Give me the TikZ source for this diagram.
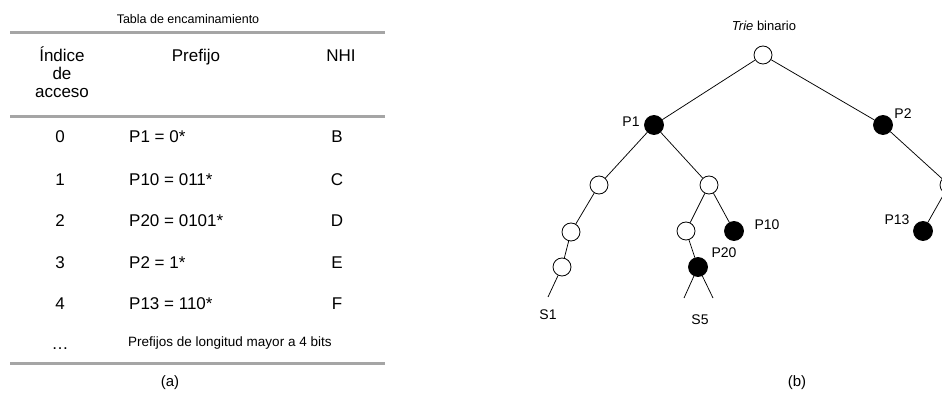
\documentclass[tikz,border=0pt]{standalone}
\usepackage{fontspec}
\setmainfont{Liberation Sans}
\definecolor{rulegray}{RGB}{165,165,165}

\begin{document}
\begin{tikzpicture}[x=1pt,y=-1pt,
  hueco/.style={circle,draw,fill=white,minimum size=18pt,inner sep=0pt,line width=0.8pt},
  lleno/.style={circle,draw,fill=black,minimum size=19pt,inner sep=0pt,line width=0.8pt},
  rama/.style={line width=0.75pt},
  regla/.style={rulegray,line width=3pt},
  celda/.style={anchor=base,inner sep=0pt,font=\fontsize{17}{20}\selectfont},
  etiq/.style={anchor=base,inner sep=0pt,font=\fontsize{14}{16}\selectfont}]
  \clip (0,0) rectangle (942,403);
  % (a) tabla
  \node[anchor=base,inner sep=0pt,font=\fontsize{12.5}{15}\selectfont] (titulo) at (188,24) {Tabla de encaminamiento};
  \draw[regla] (10,33) -- (385,33);
  \node[celda] (hidx1) at (62,62) {Índice};
  \node[celda] (hidx2) at (62,80) {de};
  \node[celda] (hidx3) at (62,98) {acceso};
  \node[celda] (hpre) at (196,62) {Prefijo};
  \node[celda] (hnhi) at (341,62) {NHI};
  \draw[regla] (10,117) -- (385,117);
  \node[celda] (idx0) at (60,143) {0};
  \node[celda,anchor=base west] (pre0) at (129,143) {P1 = 0*};
  \node[celda] (nhi0) at (337,143) {B};
  \node[celda] (idx1) at (60,186) {1};
  \node[celda,anchor=base west] (pre1) at (129,186) {P10 = 011*};
  \node[celda] (nhi1) at (337,186) {C};
  \node[celda] (idx2) at (60,227) {2};
  \node[celda,anchor=base west] (pre2) at (129,227) {P20 = 0101*};
  \node[celda] (nhi2) at (337,227) {D};
  \node[celda] (idx3) at (60,269) {3};
  \node[celda,anchor=base west] (pre3) at (129,269) {P2 = 1*};
  \node[celda] (nhi3) at (337,269) {E};
  \node[celda] (idx4) at (60,309) {4};
  \node[celda,anchor=base west] (pre4) at (129,309) {P13 = 110*};
  \node[celda] (nhi4) at (337,309) {F};
  \node[celda] (idxn) at (60,349) {\dots};
  \node[anchor=base west,inner sep=0pt,font=\fontsize{13.5}{16}\selectfont] (resto) at (128,346) {Prefijos de longitud mayor a 4 bits};
  \draw[regla] (10,363) -- (385,363);
  \node[anchor=base,inner sep=0pt,font=\fontsize{15}{18}\selectfont] (capa) at (170,386) {(a)};
  % (b) trie binario
  \node[anchor=base,inner sep=0pt,font=\fontsize{13}{16}\selectfont] (trie) at (764,31) {\textit{Trie} binario};
  \node[hueco] (raiz) at (763,55) {};
  \node[lleno] (p1) at (654,125) {};
  \node[lleno] (p2) at (883,125) {};
  \node[hueco] (n0) at (599,185) {};
  \node[hueco] (n01) at (709,185) {};
  \node[hueco] (n00) at (571,232) {};
  \node[hueco] (n000) at (562,267) {};
  \node[hueco] (n010) at (686,231) {};
  \node[lleno] (p10) at (734,231) {};
  \node[lleno] (p20) at (698,267) {};
  \node[hueco] (n11) at (949,185) {};
  \node[lleno] (p13) at (923,231) {};
  \coordinate (s1fin) at (548,297);
  \coordinate (s5izq) at (684,298);
  \coordinate (s5der) at (713,298);
  \draw[rama] (raiz) -- (p1);
  \draw[rama] (raiz) -- (p2);
  \draw[rama] (p1) -- (n0);
  \draw[rama] (p1) -- (n01);
  \draw[rama] (n0) -- (n00);
  \draw[rama] (n00) -- (n000);
  \draw[rama] (n000) -- (s1fin);
  \draw[rama] (n01) -- (n010);
  \draw[rama] (n01) -- (p10);
  \draw[rama] (n010) -- (p20);
  \draw[rama] (p20) -- (s5izq);
  \draw[rama] (p20) -- (s5der);
  \draw[rama] (p2) -- (n11);
  \draw[rama] (n11) -- (p13);
  \node[etiq] (lp1) at (631,127) {P1};
  \node[etiq] (lp2) at (903,119) {P2};
  \node[etiq] (lp10) at (767,230) {P10};
  \node[etiq] (lp20) at (724,258) {P20};
  \node[etiq] (lp13) at (897,225) {P13};
  \node[etiq] (ls1) at (548,319) {S1};
  \node[etiq] (ls5) at (700,324) {S5};
  \node[anchor=base,inner sep=0pt,font=\fontsize{15}{18}\selectfont] (capb) at (797,386) {(b)};
\end{tikzpicture}
\end{document}
